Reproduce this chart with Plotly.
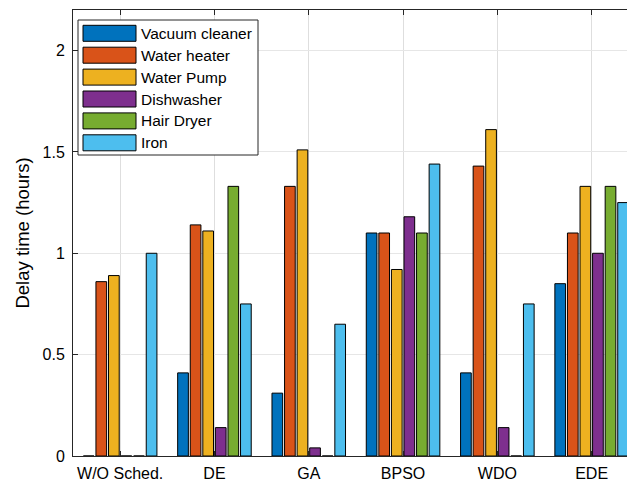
import plotly.graph_objects as go

# Scheduling methods (x categories)
methods = ["W/O Sched.", "DE", "GA", "BPSO", "WDO", "EDE"]

# Appliances and their colours
appliances = ["Vacuum cleaner", "Water heater", "Water Pump", "Dishwasher", "Hair Dryer", "Iron"]
colors = ["#0072BD", "#D95319", "#EDB120", "#7E2F8E", "#77AC30", "#4DBEEE"]

# Delay time (hours) per appliance, one value per method
vacuum_cleaner = [0.00, 0.41, 0.31, 1.10, 0.41, 0.85]
water_heater   = [0.86, 1.14, 1.33, 1.10, 1.43, 1.10]
water_pump     = [0.89, 1.11, 1.51, 0.92, 1.61, 1.33]
dishwasher     = [0.00, 0.14, 0.04, 1.18, 0.14, 1.00]
hair_dryer     = [0.00, 1.33, 0.00, 1.10, 0.00, 1.33]
iron           = [1.00, 0.75, 0.65, 1.44, 0.75, 1.25]
series = [vacuum_cleaner, water_heater, water_pump, dishwasher, hair_dryer, iron]

y_ticks = [0, 0.5, 1, 1.5, 2]
y_tick_labels = ["0", "0.5", "1", "1.5", "2"]

FONT = "Liberation Sans, Arial, Helvetica, sans-serif"
AXIS = "#262626"

W, H = 627, 484
ML, MR, MT, MB = 73, 0, 10, 28
plot_w = W - ML - MR
plot_h = H - MT - MB
cat_px = 94.3  # pixel spacing between categories

fig = go.Figure()
x_pos = list(range(1, len(methods) + 1))
for name, vals, col in zip(appliances, series, colors):
    fig.add_trace(go.Bar(
        x=x_pos, y=vals, name=name,
        marker=dict(color=col, line=dict(color="#000000", width=1)),
        showlegend=False,
    ))

# Legend box drawn as shapes in paper coordinates
def px_x(p):
    return (p - ML) / plot_w

def px_y(p):
    return 1 - (p - MT) / plot_h

shapes = [dict(type="rect", xref="paper", yref="paper",
               x0=px_x(78), x1=px_x(258), y0=px_y(155), y1=px_y(20),
               line=dict(color=AXIS, width=1), fillcolor="white", layer="above")]
annotations = []
row0, row_step, sw_h = 33.3, 21.9, 16
for i, (name, col) in enumerate(zip(appliances, colors)):
    cy = row0 + i * row_step
    shapes.append(dict(type="rect", xref="paper", yref="paper",
                       x0=px_x(83), x1=px_x(136),
                       y0=px_y(cy + sw_h / 2), y1=px_y(cy - sw_h / 2),
                       line=dict(color="#000000", width=1), fillcolor=col, layer="above"))
    annotations.append(dict(xref="paper", yref="paper", x=px_x(139), y=px_y(cy),
                            text=name, showarrow=False, xanchor="left", yanchor="middle",
                            font=dict(family=FONT, size=15.5, color="#000000")))

fig.update_layout(
    width=W, height=H,
    margin=dict(l=ML, r=MR, t=MT, b=MB, pad=0),
    paper_bgcolor="white", plot_bgcolor="white",
    barmode="group", bargap=0.2, bargroupgap=0.15,
    shapes=shapes, annotations=annotations,
    font=dict(family=FONT, size=15, color=AXIS),
)
fig.update_xaxes(
    range=[0.5, 0.5 + plot_w / cat_px],
    tickmode="array", tickvals=x_pos, ticktext=methods,
    ticks="inside", ticklen=5, tickcolor=AXIS,
    showline=True, linecolor=AXIS, linewidth=1, mirror="ticks",
    showgrid=True, gridcolor="#dedede", gridwidth=1,
    tickfont=dict(family=FONT, size=16, color="#000000"),
    ticklabelstandoff=3,
    zeroline=False,
)
fig.update_yaxes(
    range=[0, 2.2],
    tickmode="array", tickvals=y_ticks, ticktext=y_tick_labels,
    ticks="inside", ticklen=5, tickcolor=AXIS,
    showline=True, linecolor=AXIS, linewidth=1,
    showgrid=True, gridcolor="#e6e6e6", gridwidth=1,
    tickfont=dict(family=FONT, size=16, color="#000000"),
    ticklabelstandoff=4,
    title=dict(text="Delay time (hours)", font=dict(family=FONT, size=18.5, color="#000000"), standoff=8),
    zeroline=False,
)

fig.write_html("out.html")
